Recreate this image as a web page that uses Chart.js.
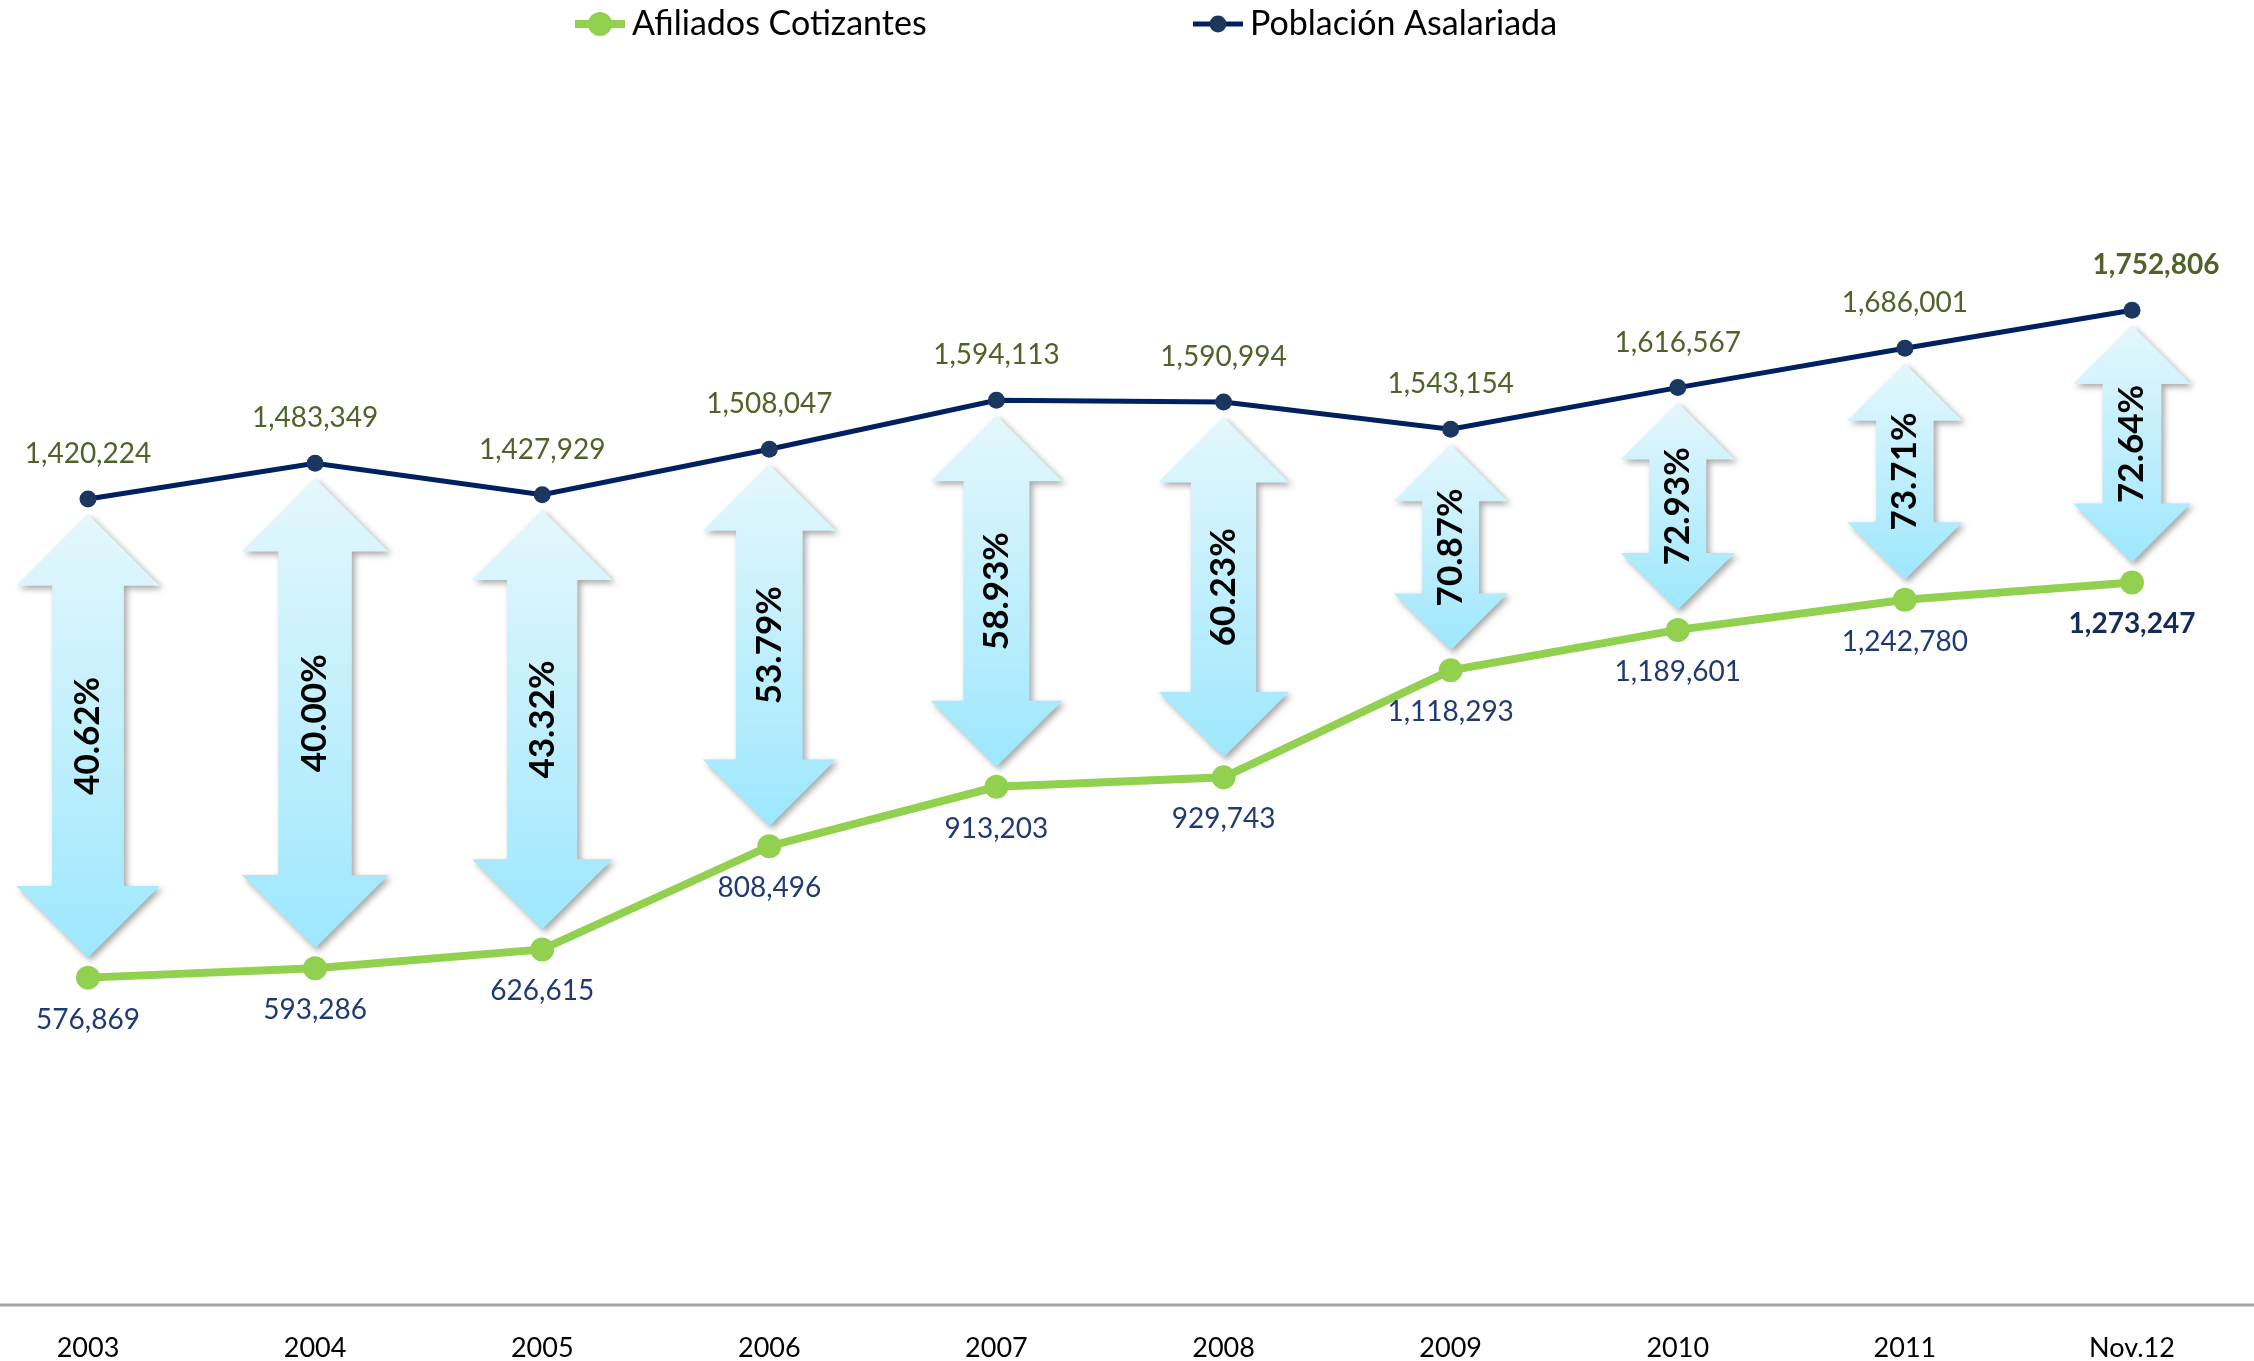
<!DOCTYPE html>
<html>
<head>
<meta charset="utf-8">
<script src="https://cdn.jsdelivr.net/npm/chart.js@4.4.1/dist/chart.umd.min.js"></script>
<style>
    html, body { margin: 0; padding: 0; background: #fff; }
    #wrap { width: 2254px; height: 1361px; position: relative; }
</style>
</head>
<body>
<div id="wrap"><canvas id="chart"></canvas></div>
<script>
const categories = ['2003', '2004', '2005', '2006', '2007', '2008', '2009', '2010', '2011', 'Nov.12'];
const poblacion = [1420224, 1483349, 1427929, 1508047, 1594113, 1590994, 1543154, 1616567, 1686001, 1752806];
const afiliados = [576869, 593286, 626615, 808496, 913203, 929743, 1118293, 1189601, 1242780, 1273247];
const cobertura = ['40.62%', '40.00%', '43.32%', '53.79%', '58.93%', '60.23%', '70.87%', '72.93%', '73.71%', '72.64%'];

const FONT = 'Lato, "Open Sans", sans-serif';
const fmt = v => v.toLocaleString('en-US');

// double-headed block arrows between the two series
const arrowsPlugin = {
    id: 'arrows',
    beforeDatasetsDraw(chart) {
        const ctx = chart.ctx, xs = chart.scales.x, ys = chart.scales.y;
        categories.forEach((c, i) => {
            const cx = xs.getPixelForValue(i);
            const top = ys.getPixelForValue(poblacion[i]) + 15;
            const bot = ys.getPixelForValue(afiliados[i]) - 20;
            const len = bot - top;
            const hw = (88 + 0.125 * len) / 2;
            const hh = hw;
            const sw = hw / 2;
            ctx.save();
            ctx.beginPath();
            ctx.moveTo(cx, top);
            ctx.lineTo(cx + hw, top + hh);
            ctx.lineTo(cx + sw, top + hh);
            ctx.lineTo(cx + sw, bot - hh);
            ctx.lineTo(cx + hw, bot - hh);
            ctx.lineTo(cx, bot);
            ctx.lineTo(cx - hw, bot - hh);
            ctx.lineTo(cx - sw, bot - hh);
            ctx.lineTo(cx - sw, top + hh);
            ctx.lineTo(cx - hw, top + hh);
            ctx.closePath();
            const g = ctx.createLinearGradient(0, top, 0, bot);
            g.addColorStop(0, '#e4f7fc');
            g.addColorStop(1, '#9de7fd');
            ctx.fillStyle = g;
            ctx.shadowColor = 'rgba(0,0,0,0.35)';
            ctx.shadowBlur = 6;
            ctx.shadowOffsetX = 3;
            ctx.shadowOffsetY = 3;
            ctx.fill();
            ctx.restore();

            ctx.save();
            ctx.translate(cx, (top + bot) / 2);
            ctx.rotate(-Math.PI / 2);
            ctx.font = 'bold 35px ' + FONT;
            ctx.fillStyle = '#000';
            ctx.textAlign = 'center';
            ctx.textBaseline = 'middle';
            ctx.fillText(cobertura[i], 0, 0);
            ctx.restore();
        });
    }
};

// value labels, axis line and legend
const labelsPlugin = {
    id: 'labels',
    afterDraw(chart) {
        const ctx = chart.ctx, xs = chart.scales.x, ys = chart.scales.y;
        const last = categories.length - 1;
        ctx.save();
        ctx.textAlign = 'center';
        ctx.textBaseline = 'middle';
        categories.forEach((c, i) => {
            const px = xs.getPixelForValue(i);
            const bold = i === last ? 'bold ' : '';
            ctx.font = bold + '28px ' + FONT;
            ctx.fillStyle = '#4f6228';
            ctx.fillText(fmt(poblacion[i]), px + (i === last ? 24 : 0), ys.getPixelForValue(poblacion[i]) - 45);
            ctx.fillStyle = i === last ? '#142a5c' : '#1f3a72';
            ctx.fillText(fmt(afiliados[i]), px, ys.getPixelForValue(afiliados[i]) + 42);
        });

        // baseline across the whole width
        ctx.strokeStyle = '#a6a6a6';
        ctx.lineWidth = 3;
        ctx.beginPath();
        ctx.moveTo(0, chart.chartArea.bottom);
        ctx.lineTo(chart.width, chart.chartArea.bottom);
        ctx.stroke();

        // legend
        const items = [
            { ds: chart.data.datasets[0], x: 600 },
            { ds: chart.data.datasets[1], x: 1218 }
        ];
        const ly = 24;
        items.forEach(it => {
            ctx.strokeStyle = it.ds.borderColor;
            ctx.lineWidth = it.ds.borderWidth;
            ctx.beginPath();
            ctx.moveTo(it.x - 25, ly);
            ctx.lineTo(it.x + 25, ly);
            ctx.stroke();
            ctx.fillStyle = it.ds.pointBackgroundColor;
            ctx.beginPath();
            ctx.arc(it.x, ly, it.ds.pointRadius, 0, Math.PI * 2);
            ctx.fill();
            ctx.fillStyle = '#000';
            ctx.font = '34px ' + FONT;
            ctx.textAlign = 'left';
            ctx.fillText(it.ds.label, it.x + 32, ly);
        });
        ctx.restore();
    }
};

new Chart(document.getElementById('chart'), {
    type: 'line',
    data: {
        labels: categories,
        datasets: [{
            label: 'Afiliados Cotizantes',
            data: afiliados,
            borderColor: '#92d050',
            borderWidth: 8,
            pointBackgroundColor: '#92d050',
            pointBorderWidth: 0,
            pointRadius: 12,
            clip: false
        }, {
            label: 'Población Asalariada',
            data: poblacion,
            borderColor: '#002060',
            borderWidth: 5,
            pointBackgroundColor: '#1b365f',
            pointBorderWidth: 0,
            pointRadius: 8.5,
            clip: false
        }]
    },
    options: {
        responsive: true,
        maintainAspectRatio: false,
        animation: false,
        layout: { padding: { top: 170, left: 88, right: 122, bottom: 0 } },
        plugins: {
            legend: { display: false },
            tooltip: { enabled: false }
        },
        scales: {
            x: {
                offset: false,
                grid: { display: false },
                border: { display: false },
                ticks: { color: '#000', font: { family: FONT, size: 27 }, padding: 19, maxRotation: 0 },
                afterFit: s => { s.height = 56; }
            },
            y: { display: false, min: 0, max: 2000000 }
        }
    },
    plugins: [arrowsPlugin, labelsPlugin]
});
</script>
</body>
</html>
